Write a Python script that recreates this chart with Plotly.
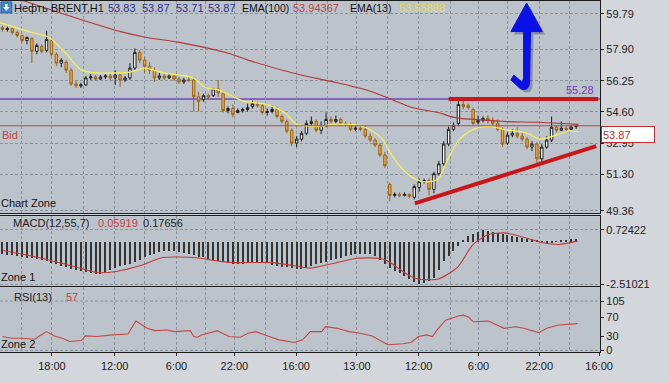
import plotly.graph_objects as go

W, H = 670, 383
FONT = "Arial, Liberation Sans, sans-serif"

# ---------------- data ----------------
candle_open = [59.06, 58.96, 59.01, 58.80, 58.64, 58.38, 58.49, 57.81, 58.07, 57.86,
               58.38, 57.65, 57.18, 57.23, 56.81, 56.08, 55.98, 56.03, 56.40, 56.45,
               56.34, 56.45, 56.50, 56.40, 56.55, 56.29, 56.40, 56.92, 57.75, 57.34,
               57.02, 56.81, 56.40, 56.50, 56.40, 56.50, 56.34, 56.19, 56.29, 56.29,
               55.40, 55.25, 55.46, 55.46, 55.82, 55.56, 54.67, 54.78, 54.57, 54.67,
               54.73, 54.88, 55.04, 54.93, 54.57, 54.62, 54.73, 54.36, 54.10, 53.63,
               52.95, 53.16, 53.47, 53.99, 54.10, 53.63, 53.89, 54.20, 54.10, 54.20,
               53.99, 53.94, 53.68, 53.73, 53.68, 53.32, 53.11, 52.85, 52.32, 50.76,
               50.18, 50.24, 50.18, 50.24, 50.08, 50.60, 50.91, 50.97, 50.50, 51.33,
               51.85, 52.90, 53.68, 53.99, 54.99, 54.93, 54.73, 54.05, 54.15, 54.26,
               54.15, 53.99, 53.68, 52.95, 53.37, 53.47, 53.32, 53.16, 52.74, 52.90,
               52.12, 52.74, 53.11, 53.79, 53.63, 53.73, 53.68, 53.83]
candle_high = [59.16, 59.11, 59.06, 58.90, 58.69, 58.59, 58.54, 58.22, 58.17, 58.90,
               58.49, 57.75, 57.44, 57.34, 56.92, 56.24, 56.14, 56.50, 56.61, 56.55,
               56.55, 56.61, 56.66, 56.81, 56.61, 56.50, 57.18, 57.96, 57.86, 57.49,
               57.23, 56.97, 56.66, 56.66, 56.61, 56.61, 56.45, 56.40, 56.45, 56.45,
               55.67, 55.56, 55.56, 55.87, 56.29, 55.67, 54.88, 54.99, 54.78, 54.83,
               55.04, 55.20, 55.14, 55.04, 54.78, 54.93, 54.88, 54.46, 54.20, 53.73,
               53.32, 53.58, 54.15, 54.36, 54.20, 54.10, 54.57, 54.36, 54.41, 54.31,
               54.10, 54.05, 53.84, 53.84, 53.89, 53.47, 53.21, 52.95, 52.48, 50.86,
               50.34, 50.34, 50.34, 50.29, 50.76, 51.07, 51.07, 51.07, 51.44, 52.01,
               53.05, 53.84, 54.05, 55.25, 55.25, 55.04, 54.83, 54.41, 54.36, 54.41,
               54.31, 54.20, 53.79, 53.52, 53.68, 53.79, 53.52, 53.26, 53.05, 53.00,
               52.90, 53.32, 54.36, 53.89, 54.10, 53.84, 53.89, 53.87]
candle_low = [58.85, 58.85, 58.69, 58.54, 58.28, 58.17, 57.18, 57.65, 57.70, 57.75,
              57.55, 57.02, 56.97, 56.66, 55.98, 55.87, 55.87, 55.98, 56.29, 56.24,
              56.29, 56.34, 56.29, 56.03, 55.93, 56.19, 56.29, 56.81, 57.18, 56.66,
              56.61, 56.19, 56.29, 56.29, 56.34, 56.24, 56.08, 56.08, 56.19, 54.62,
              54.62, 55.14, 55.30, 55.40, 55.40, 54.57, 54.52, 54.31, 54.52, 54.57,
              54.62, 54.78, 54.83, 54.46, 54.41, 54.52, 54.26, 53.99, 53.47, 52.79,
              52.74, 53.05, 53.37, 53.84, 53.52, 53.42, 53.79, 53.99, 53.99, 53.89,
              53.84, 53.58, 53.58, 53.58, 53.21, 53.00, 52.74, 52.22, 51.64, 49.87,
              50.08, 50.08, 50.13, 50.03, 49.97, 50.39, 50.81, 50.18, 50.29, 51.23,
              51.75, 52.79, 53.58, 53.84, 54.73, 54.73, 53.89, 53.94, 54.05, 53.99,
              53.89, 53.58, 52.74, 52.85, 53.26, 53.21, 53.05, 52.64, 52.53, 51.85,
              51.96, 52.64, 53.00, 53.52, 53.58, 53.58, 53.63, 53.71]
candle_close = [58.96, 59.01, 58.80, 58.64, 58.38, 58.54, 57.81, 58.12, 57.81, 58.43,
                57.65, 57.18, 57.34, 56.81, 56.08, 55.98, 56.03, 56.40, 56.45, 56.34,
                56.45, 56.50, 56.40, 56.55, 56.29, 56.40, 56.92, 57.75, 57.34, 57.02,
                56.81, 56.40, 56.50, 56.40, 56.50, 56.34, 56.19, 56.29, 56.28, 55.40,
                55.14, 55.46, 55.40, 55.82, 55.61, 54.67, 54.78, 54.46, 54.67, 54.73,
                54.83, 55.04, 54.93, 54.57, 54.62, 54.73, 54.36, 54.10, 53.58, 52.95,
                53.16, 53.47, 53.99, 54.10, 53.63, 53.89, 54.20, 54.10, 54.20, 53.99,
                53.94, 53.68, 53.73, 53.68, 53.32, 53.11, 52.85, 52.32, 51.75, 50.18,
                50.24, 50.18, 50.24, 50.13, 50.65, 50.91, 50.97, 50.50, 51.33, 51.85,
                52.90, 53.68, 53.89, 54.99, 54.88, 54.83, 53.99, 54.15, 54.26, 54.15,
                53.99, 53.68, 52.90, 53.37, 53.47, 53.32, 53.16, 52.74, 52.90, 52.12,
                52.74, 53.11, 53.79, 53.63, 53.73, 53.68, 53.79, 53.87]

ema13_x = [-0.5, 6.1, 9.5, 12.9, 16.1, 19.5, 22.9, 26.1, 28.9, 30.9, 32.9, 36.1, 38.9,
           41.5, 44.1, 47.5, 49.5, 54.1, 57.5, 60.1, 64.1, 67.5, 70.9, 73.5, 75.5, 77.5,
           79.5, 82.1, 84.9, 87.1, 88.9, 90.9, 92.9, 94.9, 97.5, 99.5, 102.1, 104.9,
           107.5, 109.5, 111.5, 113.5, 115.5, 117.5]
ema13_y = [59.32, 58.80, 58.54, 57.70, 56.81, 56.66, 56.66, 56.71, 56.92, 56.81, 56.66,
           56.55, 56.40, 55.87, 55.77, 55.35, 55.14, 54.99, 54.57, 53.94, 53.84, 53.94,
           53.94, 53.84, 53.58, 53.16, 52.27, 51.44, 50.97, 50.91, 51.07, 52.12, 53.05,
           53.52, 53.79, 53.84, 53.68, 53.58, 53.42, 53.16, 53.26, 53.42, 53.58, 53.56]

ema100_x = [0, 10.5, 15.5, 24.1, 29.5, 36.1, 46.1, 50.1, 60.9, 67.5, 74.1, 79.5, 83.5,
            88.9, 92.1, 102.1, 108.9, 117.5]
ema100_y = [60.85, 59.95, 59.53, 58.85, 58.54, 58.28, 57.70, 57.34, 56.55, 56.19, 55.77,
            55.25, 54.83, 54.57, 54.31, 54.10, 54.05, 53.94]

macd_hist = [-0.73, -0.76, -0.80, -0.84, -0.88, -0.93, -0.97, -1.02, -1.08, -1.15,
             -1.24, -1.32, -1.42, -1.52, -1.62, -1.70, -1.76, -1.81, -1.86, -1.90,
             -1.91, -1.85, -1.70, -1.55, -1.45, -1.38, -1.30, -1.20, -1.05, -0.90,
             -0.78, -0.70, -0.62, -0.56, -0.53, -0.55, -0.58, -0.63, -0.70, -0.80,
             -0.87, -0.92, -1.00, -1.08, -1.15, -1.22, -1.27, -1.30, -1.32, -1.30,
             -1.27, -1.24, -1.22, -1.22, -1.28, -1.36, -1.43, -1.49, -1.52, -1.56,
             -1.59, -1.61, -1.55, -1.45, -1.33, -1.25, -1.17, -1.09, -1.02, -0.94,
             -0.85, -0.78, -0.73, -0.72, -0.72, -0.73, -0.82, -1.05, -1.30, -1.55,
             -1.72, -1.85, -2.05, -2.22, -2.38, -2.51, -2.42, -2.30, -2.12, -1.70,
             -1.15, -0.85, -0.55, -0.25, 0.06, 0.35, 0.48, 0.60, 0.70, 0.66,
             0.60, 0.55, 0.46, 0.40, 0.34, 0.29, 0.24, 0.19, 0.15, 0.10,
             0.04, -0.04, -0.02, 0.04, 0.08, 0.12, 0.15, 0.18]
signal_x = [0, 7.4, 15.3, 19.3, 23.2, 28, 32.7, 39, 43.8, 47, 54.9, 59.6, 62.8, 66.7,
            72.3, 76.6, 78.6, 82.5, 84.9, 88.9, 92.8, 96, 99.1, 102.3, 106.3, 110.2,
            113.4, 117.3]
signal_y = [-0.49, -0.92, -1.51, -1.81, -1.75, -1.41, -0.92, -0.92, -1.12, -1.22, -1.22,
            -1.41, -1.55, -1.32, -0.96, -0.96, -1.12, -1.91, -2.20, -2.20, -1.51, -0.14,
            0.45, 0.55, 0.29, -0.04, -0.14, 0.06]

rsi_x = [0, 1.9, 4.2, 6.6, 7.4, 9, 10.6, 12.2, 13.7, 16.1, 16.9, 19.3, 22.4, 25.6, 27.2,
         29.5, 31.1, 33.5, 35.1, 37.5, 38.3, 39, 39.8, 40.6, 43.8, 46.2, 48.5, 50.1, 51.7,
         54.1, 56.4, 59.6, 61.2, 62.8, 65.1, 65.9, 68.3, 70.7, 73, 75.4, 78.6, 81.7, 83.3,
         84.9, 86.5, 87.7, 88.9, 90.4, 92.8, 94, 95.2, 96, 99.1, 102.3, 104.7, 106.3,
         109.4, 111, 113.4, 117.3]
rsi_y = [29.4, 25.9, 25.9, 23.8, 29.4, 39.9, 30.8, 25.9, 18.9, 21.0, 30.8, 29.4, 32.9,
         35.0, 62.3, 46.9, 42.0, 43.4, 39.9, 41.3, 42.0, 29.4, 28.0, 32.9, 42.0, 29.4,
         28.0, 36.4, 39.9, 30.8, 22.4, 16.8, 22.4, 39.9, 39.9, 50.4, 46.9, 39.9, 36.4,
         30.8, 12.0, 14.0, 16.8, 29.4, 32.9, 29.4, 46.9, 64.4, 72.8, 74.9, 69.9, 60.9,
         62.3, 46.9, 50.4, 46.9, 37.8, 46.9, 53.9, 57.0]

level_price = 55.28
bid_price = 53.87
resist_x = [91.0, 121.5]
resist_y = [55.28, 55.28]
trend_x = [84.1, 121.1]
trend_y = [49.76, 52.79]

time_tick_pos = [10.1, 22.9, 35.5, 47.3, 59.9, 72.3, 84.9, 97.1, 109.5, 121.7]
time_tick_text = ["18:00", "12:00", "6:00", "22:00", "16:00", "13:00", "12:00", "6:00",
                  "22:00", "16:00"]
grid_minor_pos = [3.9, 16.5, 28.9, 41.5, 53.7, 66.3, 78.5, 91.3, 103.1, 115.7]
price_ticks = [59.79, 57.90, 56.25, 54.60, 52.95, 51.30, 49.36]
macd_ticks = [0.72422, -2.51021]
rsi_ticks = [105, 70, 30, 0]

# ---------------- figure ----------------
idx = list(range(len(candle_close)))
XD = 612 / W
PLOT_BG = "#bdc3ca"
PAPER_BG = "#d3d6da"
GRID = "#8a939e"
AXC = "#1c1c1c"

fig = go.Figure()
fig.add_trace(go.Candlestick(
    x=idx, open=candle_open, high=candle_high, low=candle_low, close=candle_close,
    xaxis="x", yaxis="y", whiskerwidth=0, showlegend=False, hoverinfo="skip",
    increasing=dict(fillcolor="#ffffff", line=dict(color="#1e1e1e", width=1)),
    decreasing=dict(fillcolor="#f2a93b", line=dict(color="#9a6414", width=1))))
fig.add_trace(go.Scatter(x=ema100_x, y=ema100_y, mode="lines", xaxis="x", yaxis="y",
                         line=dict(color="#b03838", width=1.1, shape="spline", smoothing=0.8),
                         showlegend=False, hoverinfo="skip"))
fig.add_trace(go.Scatter(x=ema13_x, y=ema13_y, mode="lines", xaxis="x", yaxis="y",
                         line=dict(color="#f2ee62", width=1.3, shape="spline", smoothing=0.8),
                         showlegend=False, hoverinfo="skip"))
fig.add_trace(go.Scatter(x=resist_x, y=resist_y, mode="lines", xaxis="x", yaxis="y",
                         line=dict(color="#c8161a", width=4), showlegend=False, hoverinfo="skip"))
fig.add_trace(go.Scatter(x=trend_x, y=trend_y, mode="lines", xaxis="x", yaxis="y",
                         line=dict(color="#c8161a", width=4), showlegend=False, hoverinfo="skip"))

fig.add_trace(go.Bar(x=idx, y=macd_hist, xaxis="x2", yaxis="y2", width=0.22,
                     marker=dict(color="#353535", line=dict(width=0)),
                     showlegend=False, hoverinfo="skip"))
fig.add_trace(go.Scatter(x=signal_x, y=signal_y, mode="lines", xaxis="x2", yaxis="y2",
                         line=dict(color="#c03a3a", width=1.1, shape="spline", smoothing=0.6),
                         showlegend=False, hoverinfo="skip"))
fig.add_trace(go.Scatter(x=rsi_x, y=rsi_y, mode="lines", xaxis="x3", yaxis="y3",
                         line=dict(color="#c44848", width=1.1),
                         showlegend=False, hoverinfo="skip"))


def xax(anchor, labels):
    return dict(domain=[0, XD], anchor=anchor, range=[-0.5, 121.9], showgrid=True,
                gridcolor=GRID, griddash="3px,2px", gridwidth=1, zeroline=False,
                showline=True, linecolor=AXC, linewidth=1, mirror=True,
                tickmode="array", tickvals=time_tick_pos, ticktext=time_tick_text,
                minor=dict(tickmode="array", tickvals=grid_minor_pos, showgrid=True,
                           gridcolor=GRID, griddash="3px,2px", gridwidth=1),
                rangeslider=dict(visible=False), fixedrange=True,
                showticklabels=labels, ticks="outside" if labels else "",
                ticklen=3, tickcolor=AXC, tickfont=dict(family=FONT, size=11, color="#222"))


def yax(anchor, domain, rng, ticks, texts, grid):
    return dict(domain=domain, anchor=anchor, side="right", range=rng, showgrid=grid,
                gridcolor=GRID, griddash="3px,2px", gridwidth=1, zeroline=False,
                showline=True, linecolor=AXC, linewidth=1, tickmode="array",
                tickvals=ticks, ticktext=texts, ticks="outside", ticklen=3,
                tickcolor=AXC, tickfont=dict(family=FONT, size=11, color="#222"),
                fixedrange=True)


def py(yp):
    return 1 - yp / H


def px(xp):
    return xp / W


fig.update_layout(
    width=W, height=H, autosize=False,
    margin=dict(l=0, r=0, t=0, b=0, pad=0),
    paper_bgcolor=PAPER_BG, plot_bgcolor=PLOT_BG,
    font=dict(family=FONT, size=11, color="#111"),
    showlegend=False, bargap=0,
    xaxis=xax("y", False),
    xaxis2=xax("y2", False),
    xaxis3=xax("y3", True),
    yaxis=yax("x", [py(215), 1], [60.469 - 215 / 19.15, 60.469], price_ticks,
              ["%.2f" % v for v in price_ticks], True),
    yaxis2=yax("x2", [py(289), py(218)], [-2.629, 1.547], macd_ticks,
               ["%.5f" % v for v in macd_ticks], True),
    yaxis3=yax("x3", [py(356), py(290)], [-4.2, 134.4], rsi_ticks,
               [str(v) for v in rsi_ticks], False),
)

shapes = []
shapes.append(dict(type="line", xref="x domain", yref="y", x0=0, x1=1, y0=level_price,
                   y1=level_price, line=dict(color="#7446bd", width=1.5), layer="below"))
shapes.append(dict(type="line", xref="x domain", yref="y", x0=0, x1=1, y0=bid_price,
                   y1=bid_price, line=dict(color="#c24646", width=1), layer="above"))
for v in (105, 0):
    shapes.append(dict(type="line", xref="x3 domain", yref="y3", x0=0, x1=1, y0=v, y1=v,
                       line=dict(color=GRID, width=1, dash="3px,2px"), layer="below"))


def path(points, dx=0, dy=0):
    out = []
    for p in points:
        cmd = p[0]
        if cmd == "Z":
            out.append("Z")
            continue
        coords = ["%.5f,%.5f" % (px(a + dx), py(b + dy)) for (a, b) in p[1:]]
        out.append(cmd + " " + " ".join(coords))
    return " ".join(out)


arrow = [("M", (537, 2)), ("L", (553, 31)), ("L", (541, 31)), ("L", (540, 83)),
         ("Q", (539, 92), (531, 89)), ("L", (521, 80)), ("L", (524, 75)),
         ("L", (531, 81)), ("Q", (533, 83), (534, 78)), ("L", (534, 31)),
         ("L", (521, 31)), ("Z",)]
shapes.append(dict(type="path", xref="paper", yref="paper", path=path(arrow, 3, 3),
                   fillcolor="rgba(30,30,60,0.30)", line=dict(width=0)))
shapes.append(dict(type="path", xref="paper", yref="paper", path=path(arrow),
                   fillcolor="#0a10e8", line=dict(color="#0a10d0", width=1)))

shapes.append(dict(type="rect", xref="paper", yref="paper", x0=px(1), x1=px(12),
                   y0=py(12), y1=py(1), fillcolor="#3f86d6",
                   line=dict(color="#2a5a9a", width=1)))
icon = [("M", (6.5, 10)), ("L", (3, 6)), ("L", (5.3, 6)), ("L", (5.3, 3)), ("L", (7.7, 3)),
        ("L", (7.7, 6)), ("L", (10, 6)), ("Z",)]
shapes.append(dict(type="path", xref="paper", yref="paper", path=path(icon),
                   fillcolor="#ffffff", line=dict(width=0)))
fig.update_layout(shapes=shapes)

ann = []


def label(text, x, y, color="#111", anchor="left", size=11):
    ann.append(dict(text=text, x=px(x), y=py(y), xref="paper", yref="paper",
                    xanchor=anchor, yanchor="middle", showarrow=False,
                    font=dict(family=FONT, size=size, color=color), borderpad=0))


label("Нефть BRENT,H1", 13, 7)
label("53.83", 109, 7, "#2b308f")
label("53.87", 144, 7, "#2b308f")
label("53.71", 178, 7, "#2b308f")
label("53.87", 211, 7, "#2b308f")
label("EMA(100)", 246, 7, size=10.5)
label("53.94367", 298, 7, "#c04444")
label("EMA(13)", 356, 7, size=10.5)
label("53.55888", 406, 7, "#e8e23a")
label("Chart Zone", 0, 205)
label("MACD(12,55,7)", 12, 225, "#222")
label("0.05919", 99, 225, "#c04444")
label("0.17656", 145, 225, "#222")
label("Zone 1", 0, 280)
label("RSI(13)", 13, 300, "#222")
label("57", 66, 300, "#c04444")
label("Zone 2", 0, 348)
label("Bid", 1, 136, "#c04444")
label("55.28", 607, 90, "#6a3db2", anchor="right")
ann.append(dict(text="53.87", x=px(613), y=py(135), xref="paper", yref="paper",
                xanchor="left", yanchor="middle", showarrow=False, align="left",
                width=50, height=13, bgcolor="#ffffff", bordercolor="#c03030",
                borderwidth=1, borderpad=1,
                font=dict(family=FONT, size=11, color="#c03030")))
fig.update_layout(annotations=ann)

fig.write_html("out.html")
